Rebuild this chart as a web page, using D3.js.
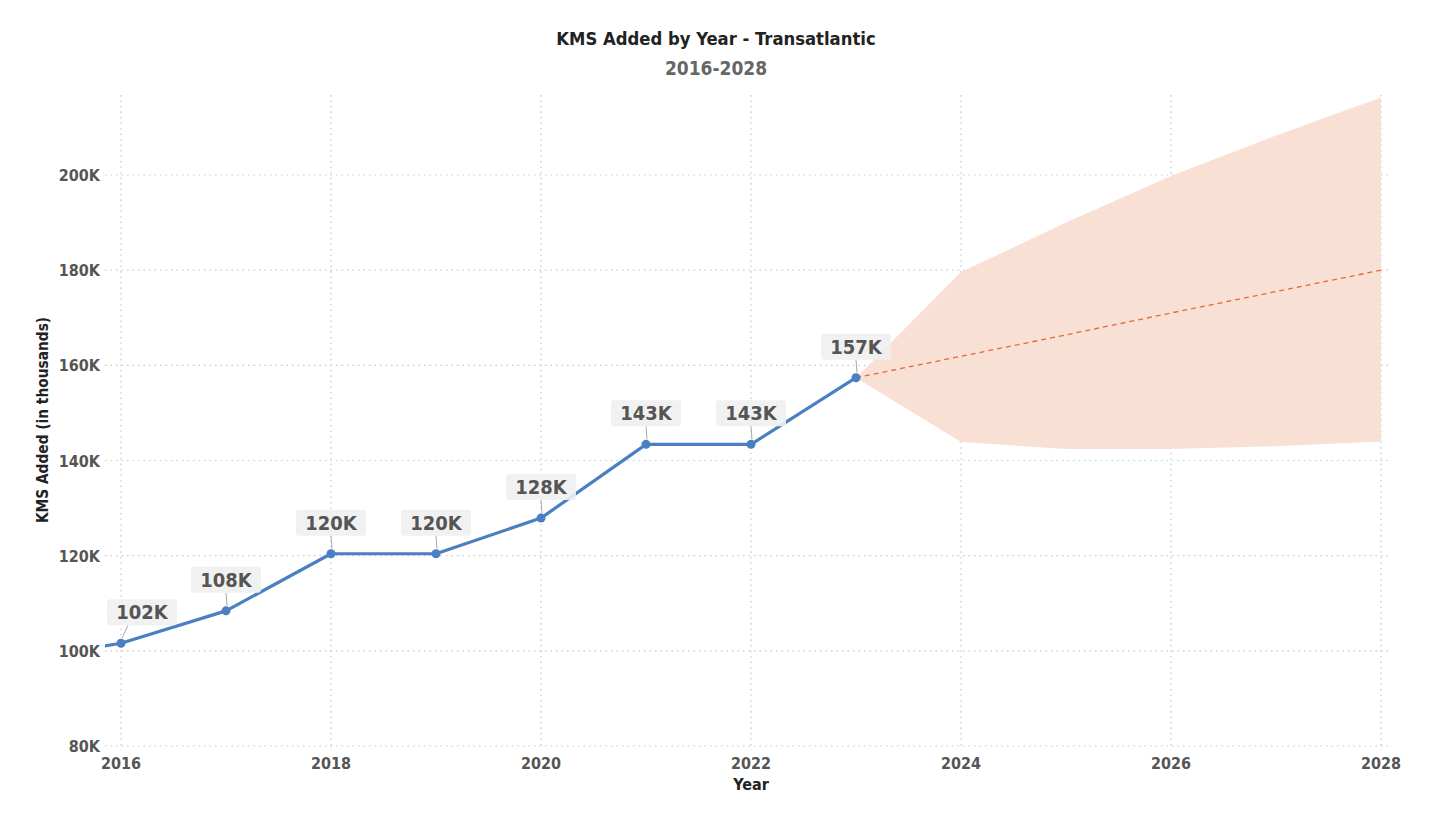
<!DOCTYPE html>
<html>
<head>
<meta charset="utf-8">
<script src="https://cdn.jsdelivr.net/npm/d3@7"></script>
<style>
  body { margin: 0; background: #fff; }
  svg { display: block; font-family: "Liberation Sans Narrow", "DejaVu Sans Condensed", "Roboto", sans-serif; font-weight: bold; }
</style>
</head>
<body>
<svg id="chart"></svg>
<script>
// actuals (2015 is outside the view, only its slope shows at the left edge)
const years = [2015, 2016, 2017, 2018, 2019, 2020, 2021, 2022, 2023];
const kms = [98000, 101600, 108400, 120400, 120400, 127900, 143400, 143400, 157400];

// forecast from the last actual point
const fcYears = [2023, 2024, 2025, 2026, 2027, 2028];
const fcMid = [157400, 161900, 166400, 171000, 175500, 180000];
const fcUpper = [157400, 179600, 190000, 199800, 208300, 216300];
const fcLower = [157400, 143900, 142400, 142400, 143000, 144000];

const xTicks = [2016, 2018, 2020, 2022, 2024, 2026, 2028];
const yTicks = [80000, 100000, 120000, 140000, 160000, 180000, 200000];

const W = 1431, H = 825;
const svg = d3.select("#chart").attr("width", W).attr("height", H);

const x = d3.scaleLinear().domain([2016, 2028]).range([121, 1381]);
const y = d3.scaleLinear().domain([80000, 200000]).range([746, 175]);
const plotL = 105, plotR = 1392, plotT = 95, plotB = 750;

svg.append("defs").append("clipPath").attr("id", "plot")
  .append("rect").attr("x", plotL).attr("y", plotT)
  .attr("width", plotR - plotL).attr("height", plotB - plotT);

// grid
const grid = svg.append("g").attr("stroke", "#c8c8c8").attr("stroke-dasharray", "1.5,4").attr("stroke-width", 1.2);
grid.selectAll(".h").data(yTicks).join("line")
  .attr("x1", plotL).attr("x2", plotR)
  .attr("y1", d => y(d)).attr("y2", d => y(d));
grid.selectAll(".v").data(xTicks).join("line")
  .attr("x1", d => x(d)).attr("x2", d => x(d))
  .attr("y1", plotT).attr("y2", plotB);

const plot = svg.append("g").attr("clip-path", "url(#plot)");

// forecast band
const fc = fcYears.map((yr, i) => ({ yr, mid: fcMid[i], lo: fcLower[i], hi: fcUpper[i] }));
plot.append("path").datum(fc)
  .attr("fill", "#f9e0d4")
  .attr("d", d3.area().x(d => x(d.yr)).y0(d => y(d.lo)).y1(d => y(d.hi)));
plot.append("path").datum(fc)
  .attr("fill", "none").attr("stroke", "#e36a34").attr("stroke-width", 1.3)
  .attr("stroke-dasharray", "5,4")
  .attr("d", d3.line().x(d => x(d.yr)).y(d => y(d.mid)));

// actual line
const pts = years.map((yr, i) => ({ yr, v: kms[i] }));
plot.append("path").datum(pts)
  .attr("fill", "none").attr("stroke", "#4a80c2").attr("stroke-width", 3.2)
  .attr("stroke-linejoin", "round")
  .attr("d", d3.line().x(d => x(d.yr)).y(d => y(d.v)));
plot.selectAll("circle").data(pts.filter(d => d.yr >= 2016)).join("circle")
  .attr("cx", d => x(d.yr)).attr("cy", d => y(d.v)).attr("r", 4.5)
  .attr("fill", "#4a80c2");

// data labels
const labels = svg.append("g");
pts.filter(d => d.yr >= 2016).forEach(d => {
  const px = x(d.yr), py = y(d.v);
  const dx = d.yr === 2016 ? 21 : 0;
  const cx = px + dx, cy = py - 31;
  labels.append("line")
    .attr("x1", px + 1).attr("y1", py - 5)
    .attr("x2", cx + (dx ? -14 : 0)).attr("y2", cy + 13)
    .attr("stroke", "#aaa").attr("stroke-width", 1);
  labels.append("rect")
    .attr("x", cx - 35).attr("y", cy - 13).attr("width", 70).attr("height", 26)
    .attr("rx", 3).attr("fill", "#f0f0f0").attr("opacity", 0.9);
  labels.append("text")
    .attr("x", cx).attr("y", cy + 7).attr("text-anchor", "middle")
    .attr("font-size", 20).attr("fill", "#555")
    .text(Math.round(d.v / 1000) + "K");
});

// axes labels
svg.append("g").selectAll("text").data(yTicks).join("text")
  .attr("x", 100).attr("y", d => y(d) + 6).attr("text-anchor", "end")
  .attr("font-size", 16).attr("fill", "#555")
  .text(d => d / 1000 + "K");
svg.append("g").selectAll("text").data(xTicks).join("text")
  .attr("x", d => x(d)).attr("y", 769).attr("text-anchor", "middle")
  .attr("font-size", 16).attr("fill", "#555")
  .text(d => d);

svg.append("text").attr("x", 751).attr("y", 790).attr("text-anchor", "middle")
  .attr("font-size", 16).attr("fill", "#222").text("Year");
svg.append("text").attr("transform", "translate(48,420) rotate(-90)")
  .attr("text-anchor", "middle").attr("font-size", 15.3).attr("fill", "#222")
  .text("KMS Added (in thousands)");

// titles
svg.append("text").attr("x", 716).attr("y", 45).attr("text-anchor", "middle")
  .attr("font-size", 18.3).attr("fill", "#222").text("KMS Added by Year - Transatlantic");
svg.append("text").attr("x", 716).attr("y", 75).attr("text-anchor", "middle")
  .attr("font-size", 19).attr("fill", "#666").text("2016-2028");
</script>
</body>
</html>
